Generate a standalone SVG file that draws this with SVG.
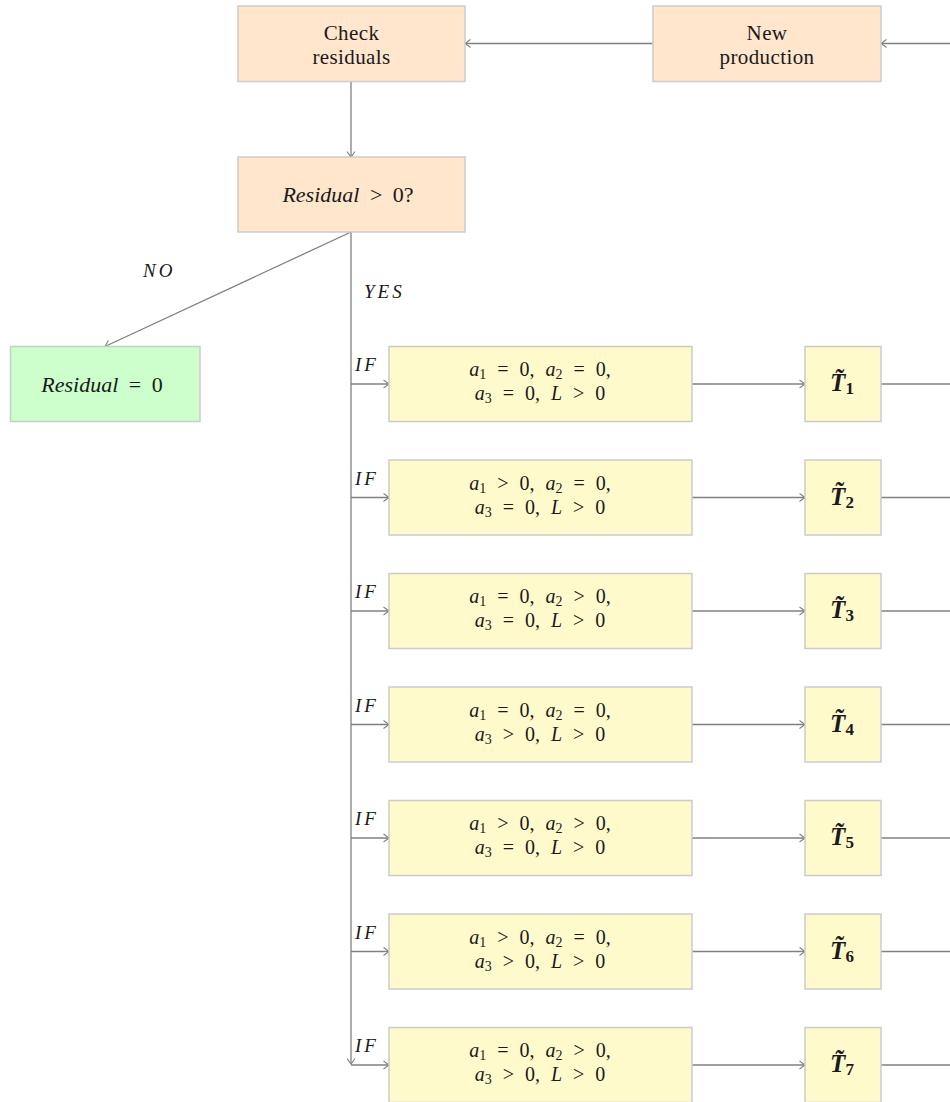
<svg xmlns="http://www.w3.org/2000/svg" width="950" height="1102" viewBox="0 0 950 1102">
  <defs>
    <marker id="arr" markerUnits="userSpaceOnUse" markerWidth="12" markerHeight="12" viewBox="-7 -6 8 12" refX="0" refY="0" orient="auto">
      <path d="M-5.5,-4 L0,0 L-5.5,4" fill="none" stroke="#808080" stroke-width="1.1"/>
    </marker>
    <style>
      .box { stroke: #cccccc; stroke-width: 1.5; }
      .peach { fill: #ffe6cc; }
      .yel { fill: #fffacc; }
      .grn { fill: #ccffcc; }
      .ln { fill: none; stroke: #808080; stroke-width: 1.3; }
      .ar { marker-end: url(#arr); }
      text { font-family: "Liberation Serif", "DejaVu Serif", serif; fill: #1a1a1a; text-anchor: middle; }
      .t21 { font-size: 21px; letter-spacing: 0.4px; }
      .m22 { font-size: 22px; word-spacing: 5px; }
      .c20 { font-size: 20px; word-spacing: 6px; }
      .lbl { font-size: 19px; font-style: italic; text-anchor: start; letter-spacing: 3px; }
      .i { font-style: italic; }
      .sb { font-size: 14px; }
      .tt { font-size: 25px; font-weight: bold; font-style: italic; }
      .ts { font-size: 17px; font-style: normal; }
    </style>
  </defs>

  <!-- connectors -->
  <g id="connectors">
    <path class="ln ar" d="M950,43.5 H881"/>
    <path class="ln ar" d="M653,43.5 H465"/>
    <path class="ln ar" d="M351,81.5 V157"/>
    <path class="ln ar" d="M351,232 L105,346.5"/>
    <path class="ln ar" d="M351,232 V1064"/>
    <g id="branches">
      <path class="ln ar" d="M351,384 H389"/>
      <path class="ln ar" d="M692,384 H805"/>
      <path class="ln" d="M881,384 H950"/>
      <path class="ln ar" d="M351,497.5 H389"/>
      <path class="ln ar" d="M692,497.5 H805"/>
      <path class="ln" d="M881,497.5 H950"/>
      <path class="ln ar" d="M351,611 H389"/>
      <path class="ln ar" d="M692,611 H805"/>
      <path class="ln" d="M881,611 H950"/>
      <path class="ln ar" d="M351,724.5 H389"/>
      <path class="ln ar" d="M692,724.5 H805"/>
      <path class="ln" d="M881,724.5 H950"/>
      <path class="ln ar" d="M351,838 H389"/>
      <path class="ln ar" d="M692,838 H805"/>
      <path class="ln" d="M881,838 H950"/>
      <path class="ln ar" d="M351,951.5 H389"/>
      <path class="ln ar" d="M692,951.5 H805"/>
      <path class="ln" d="M881,951.5 H950"/>
      <path class="ln ar" d="M351,1065 H389"/>
      <path class="ln ar" d="M692,1065 H805"/>
      <path class="ln" d="M881,1065 H950"/>
    </g>
    <text class="lbl" x="143" y="277">NO</text>
    <text class="lbl" x="364" y="298">YES</text>
    <g id="if-labels">
      <text class="lbl" x="355" y="371">IF</text>
      <text class="lbl" x="355" y="484.5">IF</text>
      <text class="lbl" x="355" y="598">IF</text>
      <text class="lbl" x="355" y="711.5">IF</text>
      <text class="lbl" x="355" y="825">IF</text>
      <text class="lbl" x="355" y="938.5">IF</text>
      <text class="lbl" x="355" y="1052">IF</text>
    </g>
  </g>

  <!-- top row -->
  <g id="check-residuals">
    <rect class="box peach" x="238" y="6" width="227" height="75.5"/>
    <text class="t21" x="351.5" y="40">Check<tspan x="351.5" dy="24">residuals</tspan></text>
  </g>
  <g id="new-production">
    <rect class="box peach" x="653" y="6" width="228" height="75.5"/>
    <text class="t21" x="767" y="40">New<tspan x="767" dy="24">production</tspan></text>
  </g>

  <g id="residual-test">
    <rect class="box peach" x="238" y="157" width="227" height="75"/>
    <text class="m22" x="348" y="202"><tspan class="i">Residual</tspan> &gt; 0?</text>
  </g>

  <g id="residual-zero">
    <rect class="box grn" x="10.5" y="346.5" width="189.5" height="75"/>
    <text class="m22" x="102" y="392"><tspan class="i">Residual</tspan> = 0</text>
  </g>

  <!-- condition boxes: two lines in one text element each -->
  <g id="cond1">
    <rect class="box yel" x="389" y="346.5" width="303" height="75"/>
    <text class="c20" x="540" y="376"><tspan class="i">a</tspan><tspan class="sb" dy="3">1</tspan><tspan dy="-3"> = 0, </tspan><tspan class="i">a</tspan><tspan class="sb" dy="3">2</tspan><tspan dy="-3"> = 0,</tspan><tspan class="i" x="540" dy="24">a</tspan><tspan class="sb" dy="3">3</tspan><tspan dy="-3"> = 0, </tspan><tspan class="i">L</tspan> &gt; 0</text>
  </g>
  <g id="cond2">
    <rect class="box yel" x="389" y="460" width="303" height="75"/>
    <text class="c20" x="540" y="489.5"><tspan class="i">a</tspan><tspan class="sb" dy="3">1</tspan><tspan dy="-3"> &gt; 0, </tspan><tspan class="i">a</tspan><tspan class="sb" dy="3">2</tspan><tspan dy="-3"> = 0,</tspan><tspan class="i" x="540" dy="24">a</tspan><tspan class="sb" dy="3">3</tspan><tspan dy="-3"> = 0, </tspan><tspan class="i">L</tspan> &gt; 0</text>
  </g>
  <g id="cond3">
    <rect class="box yel" x="389" y="573.5" width="303" height="75"/>
    <text class="c20" x="540" y="603"><tspan class="i">a</tspan><tspan class="sb" dy="3">1</tspan><tspan dy="-3"> = 0, </tspan><tspan class="i">a</tspan><tspan class="sb" dy="3">2</tspan><tspan dy="-3"> &gt; 0,</tspan><tspan class="i" x="540" dy="24">a</tspan><tspan class="sb" dy="3">3</tspan><tspan dy="-3"> = 0, </tspan><tspan class="i">L</tspan> &gt; 0</text>
  </g>
  <g id="cond4">
    <rect class="box yel" x="389" y="687" width="303" height="75"/>
    <text class="c20" x="540" y="716.5"><tspan class="i">a</tspan><tspan class="sb" dy="3">1</tspan><tspan dy="-3"> = 0, </tspan><tspan class="i">a</tspan><tspan class="sb" dy="3">2</tspan><tspan dy="-3"> = 0,</tspan><tspan class="i" x="540" dy="24">a</tspan><tspan class="sb" dy="3">3</tspan><tspan dy="-3"> &gt; 0, </tspan><tspan class="i">L</tspan> &gt; 0</text>
  </g>
  <g id="cond5">
    <rect class="box yel" x="389" y="800.5" width="303" height="75"/>
    <text class="c20" x="540" y="830"><tspan class="i">a</tspan><tspan class="sb" dy="3">1</tspan><tspan dy="-3"> &gt; 0, </tspan><tspan class="i">a</tspan><tspan class="sb" dy="3">2</tspan><tspan dy="-3"> &gt; 0,</tspan><tspan class="i" x="540" dy="24">a</tspan><tspan class="sb" dy="3">3</tspan><tspan dy="-3"> = 0, </tspan><tspan class="i">L</tspan> &gt; 0</text>
  </g>
  <g id="cond6">
    <rect class="box yel" x="389" y="914" width="303" height="75"/>
    <text class="c20" x="540" y="943.5"><tspan class="i">a</tspan><tspan class="sb" dy="3">1</tspan><tspan dy="-3"> &gt; 0, </tspan><tspan class="i">a</tspan><tspan class="sb" dy="3">2</tspan><tspan dy="-3"> = 0,</tspan><tspan class="i" x="540" dy="24">a</tspan><tspan class="sb" dy="3">3</tspan><tspan dy="-3"> &gt; 0, </tspan><tspan class="i">L</tspan> &gt; 0</text>
  </g>
  <g id="cond7">
    <rect class="box yel" x="389" y="1027.5" width="303" height="75"/>
    <text class="c20" x="540" y="1057"><tspan class="i">a</tspan><tspan class="sb" dy="3">1</tspan><tspan dy="-3"> = 0, </tspan><tspan class="i">a</tspan><tspan class="sb" dy="3">2</tspan><tspan dy="-3"> &gt; 0,</tspan><tspan class="i" x="540" dy="24">a</tspan><tspan class="sb" dy="3">3</tspan><tspan dy="-3"> &gt; 0, </tspan><tspan class="i">L</tspan> &gt; 0</text>
  </g>

  <!-- result nodes -->
  <g id="t1">
    <rect class="box yel" x="805" y="346.5" width="76" height="75"/>
    <text class="tt" x="842" y="391">T&#x0303;<tspan class="ts" dy="3">1</tspan></text>
  </g>
  <g id="t2">
    <rect class="box yel" x="805" y="460" width="76" height="75"/>
    <text class="tt" x="842" y="504.5">T&#x0303;<tspan class="ts" dy="3">2</tspan></text>
  </g>
  <g id="t3">
    <rect class="box yel" x="805" y="573.5" width="76" height="75"/>
    <text class="tt" x="842" y="618">T&#x0303;<tspan class="ts" dy="3">3</tspan></text>
  </g>
  <g id="t4">
    <rect class="box yel" x="805" y="687" width="76" height="75"/>
    <text class="tt" x="842" y="731.5">T&#x0303;<tspan class="ts" dy="3">4</tspan></text>
  </g>
  <g id="t5">
    <rect class="box yel" x="805" y="800.5" width="76" height="75"/>
    <text class="tt" x="842" y="845">T&#x0303;<tspan class="ts" dy="3">5</tspan></text>
  </g>
  <g id="t6">
    <rect class="box yel" x="805" y="914" width="76" height="75"/>
    <text class="tt" x="842" y="958.5">T&#x0303;<tspan class="ts" dy="3">6</tspan></text>
  </g>
  <g id="t7">
    <rect class="box yel" x="805" y="1027.5" width="76" height="75"/>
    <text class="tt" x="842" y="1072">T&#x0303;<tspan class="ts" dy="3">7</tspan></text>
  </g>
</svg>
